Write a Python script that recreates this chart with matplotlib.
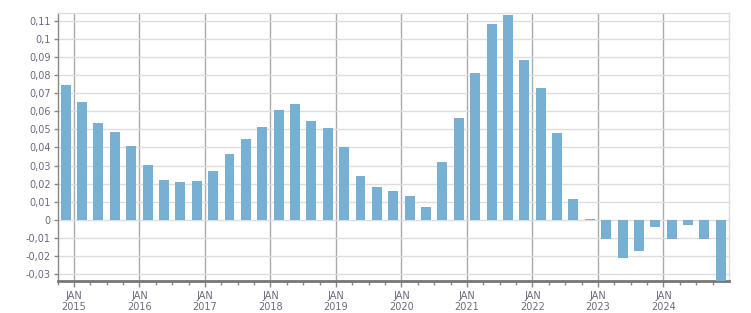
import numpy as np
import pandas as pd
import matplotlib
matplotlib.use('Agg')
import matplotlib.pyplot as plt
from matplotlib.ticker import FuncFormatter, MultipleLocator, FixedLocator

# quarterly values, 2014Q4 .. 2024Q4
quarters = [str(p) for p in pd.period_range('2014Q4', '2024Q4', freq='Q')]
values = [0.0746, 0.0652, 0.0536, 0.0486,
          0.0409, 0.0304, 0.0221, 0.0210,
          0.0215, 0.0271, 0.0365, 0.0448,
          0.0514, 0.0608, 0.0641, 0.0547,
          0.0508, 0.0403, 0.0243, 0.0182,
          0.0160, 0.0133, 0.0072, 0.0320,
          0.0564, 0.0812, 0.1083, 0.1133,
          0.0884, 0.0729, 0.0481, 0.0116,
          0.0006, -0.0105, -0.0210, -0.0171,
          -0.0039, -0.0105, -0.0028, -0.0105,
          -0.0345]
years = list(range(2015, 2025))
year_labels = ['JAN\n%d' % y for y in years]

def quarter_pos(q):
    y, n = int(q[:4]), int(q[-1])
    return y + (n - 1) / 4 + 0.125

def fmt(v, pos):
    s = '%.2f' % v
    s = s.rstrip('0').rstrip('.')
    if s in ('-0', ''):
        s = '0'
    return s.replace('.', ',')

x = np.array([quarter_pos(q) for q in quarters])

fig = plt.figure(figsize=(7.51, 3.13), dpi=100)
ax = fig.add_axes([0.0766, 0.1022, 0.8941, 0.8558])

ax.bar(x, values, width=0.152, color='#78b0d3', zorder=3)

ax.set_xlim(2014.75, 2025.0)
ax.set_ylim(-0.0339, 0.1143)

ax.yaxis.set_major_locator(MultipleLocator(0.01))
ax.yaxis.set_major_formatter(FuncFormatter(fmt))
ax.xaxis.set_major_locator(FixedLocator(years))
ax.set_xticklabels(year_labels)
ax.xaxis.set_minor_locator(FixedLocator([y + q / 4 for y in range(2014, 2025) for q in range(4)]))

ax.grid(axis='y', color='#dddddd', linewidth=1, zorder=0)
ax.grid(axis='x', which='major', color='#aaaaaa', linewidth=1, zorder=1)

for s in ('top', 'right'):
    ax.spines[s].set_color('#dddddd')
    ax.spines[s].set_linewidth(1)
ax.spines['left'].set_color('#888888')
ax.spines['left'].set_linewidth(1)
ax.spines['bottom'].set_color('#777777')
ax.spines['bottom'].set_linewidth(2)

ax.tick_params(axis='y', labelsize=7, colors='#888888', labelcolor='#6a6a80', length=3, width=1, pad=2)
ax.tick_params(axis='x', which='major', labelsize=7, colors='#888888', labelcolor='#6a6a80', length=4, width=1, pad=3)
ax.tick_params(axis='x', which='minor', colors='#888888', length=3, width=1)

fig.savefig('out.png', dpi=100)
